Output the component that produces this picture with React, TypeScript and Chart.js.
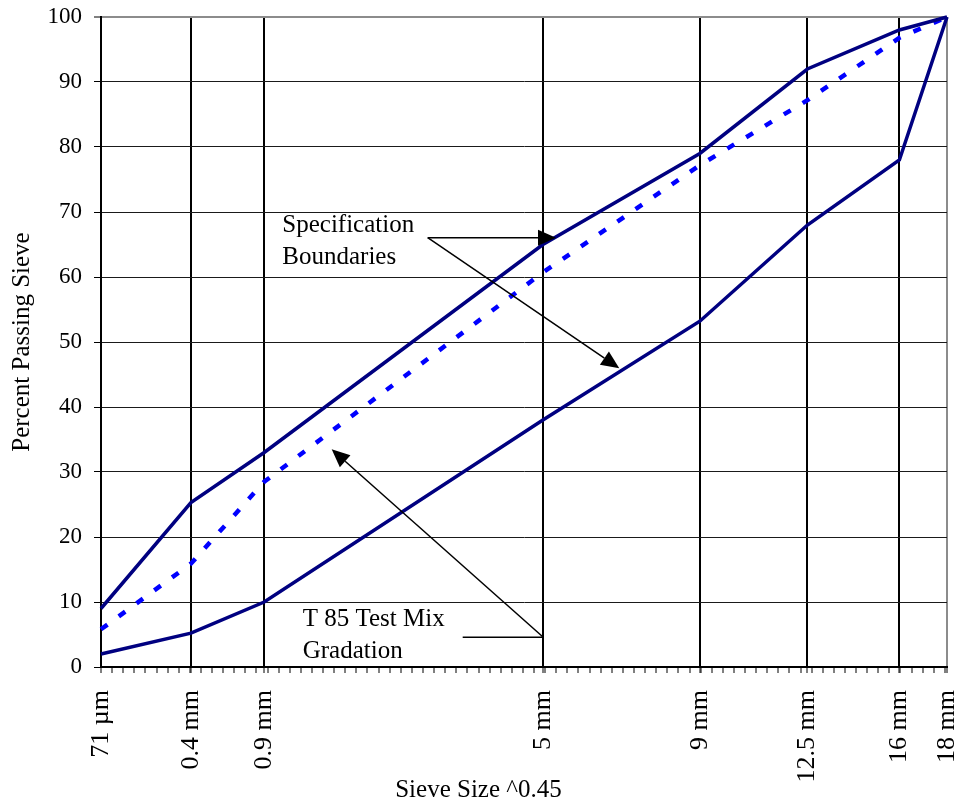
import React, { useEffect, useRef } from 'react';
import { Chart, registerables } from 'chart.js';

Chart.register(...registerables);

// ---------- data ----------
const SIEVE_EXPONENT = 0.45;
const sieveSizesMm = [0.071, 0.4, 0.9, 5, 9, 12.5, 16, 18];
const sieveLabels = ['71 µm', '0.4 mm', '0.9 mm', '5 mm', '9 mm', '12.5 mm', '16 mm', '18 mm'];
const upperBoundary = [9, 25.3, 33, 65, 79, 92, 98, 100];
const lowerBoundary = [2, 5.2, 10, 38, 53.2, 68, 78, 100];
const testMixGradation = [5.8, 15.9, 28.5, 60.7, 77.2, 87.2, 96.8, 100];
const yTickValues = [0, 10, 20, 30, 40, 50, 60, 70, 80, 90, 100];
const xMinorStep = 0.0442; // minor tick interval on the size^0.45 axis

const yAxisTitle = 'Percent Passing Sieve';
const xAxisTitle = 'Sieve Size ^0.45';

// annotation texts, anchored in data units (x = size^0.45, y = percent; left / baseline)
const annotationTexts = [
  { text: 'Specification', x: 1.0258, y: 66.97 },
  { text: 'Boundaries', x: 1.0258, y: 61.95 },
  { text: 'T 85 Test Mix', x: 1.107, y: 6.35 },
  { text: 'Gradation', x: 1.107, y: 1.34 },
];
// plain leader lines [x1, y1, x2, y2]
const leaderLines = [
  [1.7439, 4.57, 2.0647, 4.57],
];
// arrows [fromX, fromY, tipX, tipY]
const arrowLines = [
  [1.6046, 66.05, 2.1153, 66.05],
  [1.6046, 66.05, 2.3672, 45.95],
  [2.0647, 4.57, 1.2224, 33.49],
];
const xTitleCenter = 1.8068;

// ---------- helpers ----------
const SERIF = '"Liberation Serif", "Times New Roman", "DejaVu Serif", serif';
const toX = (mm: number) => Math.pow(mm, SIEVE_EXPONENT);
const majorX = sieveSizesMm.map(toX);
const X_MIN = majorX[0];
const X_MAX = majorX[majorX.length - 1];
const majorIndex = (v: number) => majorX.findIndex((m) => Math.abs(m - v) < 1e-7);

const xTickValues: number[] = (() => {
  const vals = [...majorX];
  for (let i = 0; X_MIN + i * xMinorStep <= X_MAX + 1e-9; i++) {
    const v = X_MIN + i * xMinorStep;
    if (majorIndex(v) < 0) vals.push(v);
  }
  return vals.sort((a, b) => a - b);
})();

const annotationPlugin = {
  id: 'gradationAnnotations',
  afterDatasetsDraw(chart: any) {
    const { ctx, scales } = chart;
    const xs = scales.x;
    const ys = scales.y;
    ctx.save();
    ctx.fillStyle = '#000';
    ctx.font = `25px ${SERIF}`;
    ctx.textAlign = 'left';
    ctx.textBaseline = 'alphabetic';
    for (const t of annotationTexts) {
      ctx.fillText(t.text, xs.getPixelForValue(t.x), ys.getPixelForValue(t.y));
    }
    ctx.strokeStyle = '#000';
    ctx.lineWidth = 1.5;
    for (const [x1, y1, x2, y2] of leaderLines) {
      ctx.beginPath();
      ctx.moveTo(xs.getPixelForValue(x1), ys.getPixelForValue(y1));
      ctx.lineTo(xs.getPixelForValue(x2), ys.getPixelForValue(y2));
      ctx.stroke();
    }
    const headLen = 18;
    const headHalf = 8;
    for (const [x1, y1, x2, y2] of arrowLines) {
      const px1 = xs.getPixelForValue(x1);
      const py1 = ys.getPixelForValue(y1);
      const px2 = xs.getPixelForValue(x2);
      const py2 = ys.getPixelForValue(y2);
      const ang = Math.atan2(py2 - py1, px2 - px1);
      const bx = px2 - headLen * Math.cos(ang);
      const by = py2 - headLen * Math.sin(ang);
      ctx.beginPath();
      ctx.moveTo(px1, py1);
      ctx.lineTo(bx, by);
      ctx.stroke();
      ctx.beginPath();
      ctx.moveTo(px2, py2);
      ctx.lineTo(bx + headHalf * Math.sin(ang), by - headHalf * Math.cos(ang));
      ctx.lineTo(bx - headHalf * Math.sin(ang), by + headHalf * Math.cos(ang));
      ctx.closePath();
      ctx.fill();
    }
    ctx.textAlign = 'center';
    ctx.fillText(xAxisTitle, xs.getPixelForValue(xTitleCenter), chart.height - 5);
    ctx.restore();
  },
};

export default function App() {
  const canvasRef = useRef<HTMLCanvasElement | null>(null);

  useEffect(() => {
    const canvas = canvasRef.current;
    if (!canvas) return;
    const mk = (vals: number[]) => sieveSizesMm.map((s, i) => ({ x: toX(s), y: vals[i] }));
    const chart = new Chart(canvas, {
      type: 'line',
      data: {
        datasets: [
          {
            label: 'Upper Specification Boundary',
            data: mk(upperBoundary),
            borderColor: '#000080',
            backgroundColor: '#000080',
            borderWidth: 3.5,
            pointRadius: 0,
            tension: 0,
            fill: false,
            clip: false as any,
          },
          {
            label: 'Lower Specification Boundary',
            data: mk(lowerBoundary),
            borderColor: '#000080',
            backgroundColor: '#000080',
            borderWidth: 3.5,
            pointRadius: 0,
            tension: 0,
            fill: false,
            clip: false as any,
          },
          {
            label: 'T 85 Test Mix Gradation',
            data: mk(testMixGradation),
            borderColor: '#0000FF',
            backgroundColor: '#0000FF',
            borderWidth: 4.5,
            borderDash: [8, 14],
            pointRadius: 0,
            tension: 0,
            fill: false,
            clip: false as any,
          },
        ],
      },
      options: {
        responsive: false,
        animation: false,
        devicePixelRatio: 1,
        layout: { padding: { left: 0, right: 9, top: 17, bottom: 0 } },
        plugins: {
          legend: { display: false },
          tooltip: { enabled: false },
          title: { display: false },
        },
        scales: {
          x: {
            type: 'linear',
            min: X_MIN,
            max: X_MAX,
            afterBuildTicks: (scale: any) => {
              scale.ticks = xTickValues.map((v) => ({ value: v }));
            },
            afterFit: (scale: any) => {
              scale.height = 135;
              scale.paddingLeft = 0;
              scale.paddingRight = 0;
            },
            ticks: {
              autoSkip: false,
              minRotation: 90,
              maxRotation: 90,
              padding: 17,
              color: '#000',
              font: { family: SERIF, size: 26 },
              callback: (value: any) => {
                const i = majorIndex(Number(value));
                return i >= 0 ? sieveLabels[i] : '';
              },
            },
            grid: {
              color: (c: any) => {
                const v = c.tick ? c.tick.value : NaN;
                const i = majorIndex(v);
                if (i < 0) return 'rgba(0,0,0,0)';
                return i === majorX.length - 1 ? '#8c8c8c' : '#000';
              },
              lineWidth: 2,
              tickLength: 6,
              tickColor: '#000',
              tickWidth: 1,
            },
            border: { display: true, color: '#000', width: 2 },
          },
          y: {
            type: 'linear',
            min: 0,
            max: 100,
            afterBuildTicks: (scale: any) => {
              scale.ticks = yTickValues.map((v) => ({ value: v }));
            },
            afterFit: (scale: any) => {
              scale.width = 101;
              scale.paddingTop = 0;
              scale.paddingBottom = 0;
            },
            ticks: {
              color: '#000',
              padding: 12,
              font: { family: SERIF, size: 23 },
            },
            grid: {
              color: (c: any) => (c.tick && c.tick.value === 100 ? '#8c8c8c' : '#1a1a1a'),
              lineWidth: (c: any) => (c.tick && c.tick.value === 100 ? 2 : 1),
              tickLength: 7,
              tickColor: '#000',
              tickWidth: 1,
            },
            border: { display: true, color: '#000', width: 2 },
            title: {
              display: true,
              text: yAxisTitle,
              color: '#000',
              font: { family: SERIF, size: 25 },
              padding: { top: 7, bottom: 0 },
            },
          },
        },
      },
      plugins: [annotationPlugin],
    } as any);
    return () => chart.destroy();
  }, []);

  return (
    <div style={{ position: 'absolute', left: 0, top: 0, width: 956, height: 802, background: '#fff' }}>
      <canvas ref={canvasRef} width={956} height={802} style={{ display: 'block', width: 956, height: 802 }} />
    </div>
  );
}
